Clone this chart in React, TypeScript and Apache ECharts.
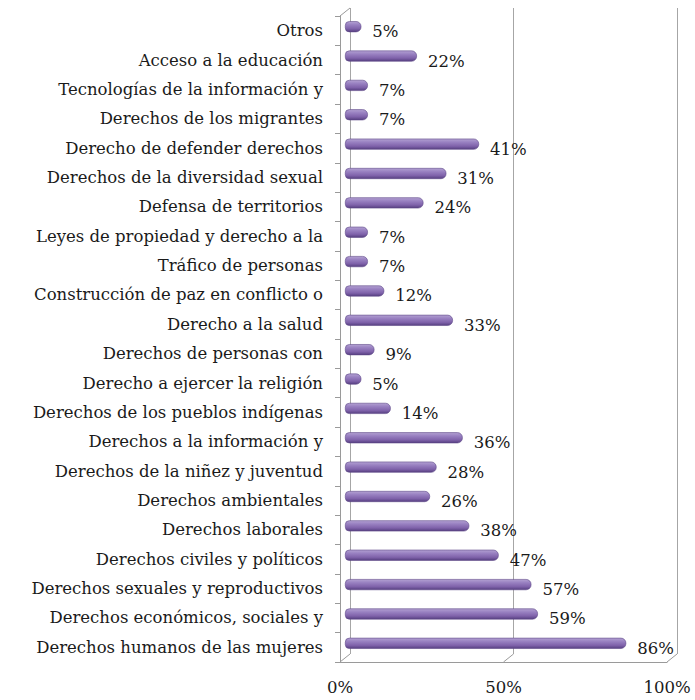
import React, { useEffect, useRef } from "react";
import * as echarts from "echarts";

// Categories listed top to bottom
const categories: string[] = [
  "Otros",
  "Acceso a la educación",
  "Tecnologías de la información y",
  "Derechos de los migrantes",
  "Derecho de defender derechos",
  "Derechos de la diversidad sexual",
  "Defensa de territorios",
  "Leyes de propiedad y derecho a la",
  "Tráfico de personas",
  "Construcción de paz en conflicto o",
  "Derecho a la salud",
  "Derechos de personas con",
  "Derecho a ejercer la religión",
  "Derechos de los pueblos indígenas",
  "Derechos a la información y",
  "Derechos de la niñez y juventud",
  "Derechos ambientales",
  "Derechos laborales",
  "Derechos civiles y políticos",
  "Derechos sexuales y reproductivos",
  "Derechos económicos, sociales y",
  "Derechos humanos de las mujeres",
];

const values: number[] = [
  5, 22, 7, 7, 41, 31, 24, 7, 7, 12, 33, 9, 5, 14, 36, 28, 26, 38, 47, 57, 59, 86,
];

const axisMin = 0;
const axisMax = 100;
const axisInterval = 50;

// layout
const FRONT_LEFT = 340;
const PLOT_W = 327;
const FRONT_TOP = 16;
const PLOT_H = 646;
const DEPTH_X = 10;
const DEPTH_Y = 8;
const FONT = "'DejaVu Serif', serif";
const FONT_SIZE = 16.5;

export default function App() {
  const ref = useRef<HTMLDivElement>(null);

  useEffect(() => {
    document.body.style.margin = "0";
    if (!ref.current) return;
    const chart = echarts.init(ref.current, null, { renderer: "svg" });

    const frontBottom = FRONT_TOP + PLOT_H;
    const gridTicks: number[] = [];
    for (let v = axisMin; v <= axisMax; v += axisInterval) gridTicks.push(v);

    const frameLines: any[] = [
      {
        type: "line",
        shape: { x1: FRONT_LEFT, y1: FRONT_TOP, x2: FRONT_LEFT + DEPTH_X, y2: FRONT_TOP - DEPTH_Y },
        style: { stroke: "#9a9a9a", lineWidth: 1 },
        z: 1,
      },
      ...gridTicks.map((v) => {
        const x = FRONT_LEFT + ((v - axisMin) / (axisMax - axisMin)) * PLOT_W;
        return {
          type: "line",
          shape: { x1: x, y1: frontBottom, x2: x + DEPTH_X, y2: frontBottom - DEPTH_Y },
          style: { stroke: "#9a9a9a", lineWidth: 1 },
          z: 1,
        };
      }),
    ];

    const option: any = {
      animation: false,
      backgroundColor: "#ffffff",
      textStyle: { fontFamily: FONT },
      grid: [
        { left: FRONT_LEFT, top: FRONT_TOP, width: PLOT_W, height: PLOT_H, containLabel: false },
        {
          left: FRONT_LEFT + DEPTH_X,
          top: FRONT_TOP - DEPTH_Y,
          width: PLOT_W,
          height: PLOT_H,
          containLabel: false,
        },
        {
          left: FRONT_LEFT + DEPTH_X / 2,
          top: FRONT_TOP - DEPTH_Y / 2,
          width: PLOT_W,
          height: PLOT_H,
          containLabel: false,
        },
      ],
      xAxis: [
        {
          gridIndex: 0,
          type: "value",
          min: axisMin,
          max: axisMax,
          interval: axisInterval,
          axisLine: { show: true, lineStyle: { color: "#9a9a9a", width: 1 } },
          axisTick: { show: false },
          splitLine: { show: false },
          axisLabel: {
            formatter: "{value}%",
            fontFamily: FONT,
            fontSize: FONT_SIZE,
            color: "#1a1a1a",
            margin: 17,
          },
        },
        {
          gridIndex: 1,
          type: "value",
          min: axisMin,
          max: axisMax,
          interval: axisInterval,
          axisLine: { show: false },
          axisTick: { show: false },
          axisLabel: { show: false },
          splitLine: {
            show: true,
            showMinLine: true,
            showMaxLine: true,
            lineStyle: { color: "#a6a6a6", width: 1 },
          },
        },
        {
          gridIndex: 2,
          type: "value",
          min: axisMin,
          max: axisMax,
          interval: axisInterval,
          show: false,
        },
      ],
      yAxis: [
        {
          gridIndex: 0,
          type: "category",
          inverse: true,
          data: categories,
          axisLine: { show: true, lineStyle: { color: "#9a9a9a", width: 1 } },
          axisTick: { show: true, length: 5, lineStyle: { color: "#9a9a9a" } },
          axisLabel: {
            fontFamily: FONT,
            fontSize: FONT_SIZE,
            color: "#1a1a1a",
            margin: 17,
            interval: 0,
          },
          splitLine: { show: false },
        },
        { gridIndex: 1, type: "category", inverse: true, data: categories, show: false },
        { gridIndex: 2, type: "category", inverse: true, data: categories, show: false },
      ],
      series: [
        {
          type: "bar",
          xAxisIndex: 2,
          yAxisIndex: 2,
          data: values,
          barWidth: 11,
          itemStyle: {
            color: new echarts.graphic.LinearGradient(0, 0, 0, 1, [
              { offset: 0, color: "#b3a1d2" },
              { offset: 0.3, color: "#9a82c2" },
              { offset: 0.7, color: "#7f62aa" },
              { offset: 1, color: "#563f80" },
            ]),
            borderColor: "#5e4888",
            borderWidth: 0.6,
            borderRadius: [4, 5, 5, 4],
          },
          label: {
            show: true,
            position: "right",
            distance: 11,
            offset: [0, 5],
            formatter: "{c}%",
            fontFamily: FONT,
            fontSize: FONT_SIZE,
            color: "#1a1a1a",
          },
          z: 3,
        },
      ],
      graphic: frameLines,
    };

    chart.setOption(option);
    return () => chart.dispose();
  }, []);

  return <div ref={ref} style={{ width: 695, height: 700 }} />;
}
